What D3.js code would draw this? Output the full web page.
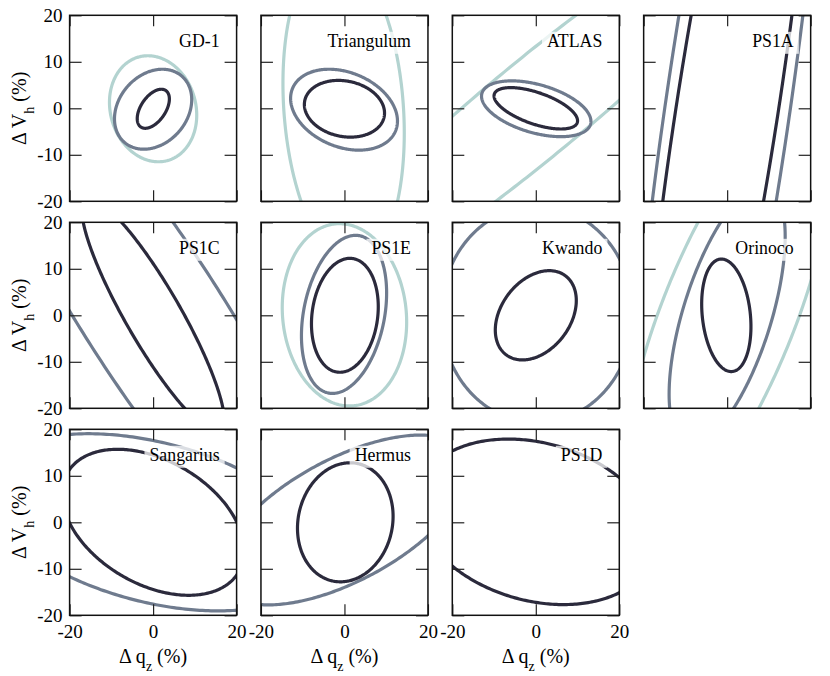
<!DOCTYPE html>
<html>
<head>
<meta charset="utf-8">
<script src="https://cdn.jsdelivr.net/npm/d3@7"></script>
<style>
  body { margin: 0; background: #fff; }
</style>
</head>
<body>
<script>
var width = 830, height = 676;
var serif = "Liberation Serif";

// panel names, row by row
var panels = ["GD-1", "Triangulum", "ATLAS", "PS1A",
              "PS1C", "PS1E", "Kwando", "Orinoco",
              "Sangarius", "Hermus", "PS1D"];

// ellipses: [panel, centre dq, centre dV, half width, half height, correlation]
var lightEllipses = [
  ["GD-1",       0.0, -0.1, 10.45, 11.4, -0.12],
  ["Triangulum",-0.2,  0.0, 14.53, 33.7, -0.158],
  ["ATLAS",      0.0,  0.0, 60.0,  44.9,  0.955],
  ["PS1E",       0.0,  0.1, 14.9,  19.6, -0.08],
  ["Orinoco",    0.3,  0.0, 24.8,  45.0,  0.726]
];
var midEllipses = [
  ["GD-1",       0.0, -0.2,  9.25,  8.6,  0.24],
  ["Triangulum",-0.1, -0.3, 12.8,   8.7, -0.28],
  ["ATLAS",      0.1, -0.1, 13.1,   6.0, -0.45],
  ["PS1A",       0.1,  0.0, 24.4, 120.0,  0.787],
  ["PS1C",       0.0,  0.0, 44.9,  60.0, -0.902],
  ["PS1E",      -0.1,  0.2, 10.2,  17.0,  0.27],
  ["Kwando",     0.3,  0.2, 23.0,  23.3,  0.0],
  ["Orinoco",    0.0,  0.0, 13.9,  27.8,  0.61],
  ["Sangarius",  0.0,  0.0, 40.5,  19.05,-0.383],
  ["Hermus",     0.0,  0.5, 30.0,  18.26, 0.608]
];
var darkEllipses = [
  ["GD-1",       0.05,-0.1,  3.85,  4.2,  0.5],
  ["Triangulum", 0.0, -0.1,  9.6,   6.1, -0.15],
  ["ATLAS",      0.0,  0.0, 10.0,   4.45,-0.6],
  ["PS1A",       0.05, 0.0, 21.0, 100.0,  0.81],
  ["PS1C",       0.0,  0.0, 17.06, 25.2, -0.897],
  ["PS1E",       0.1,  0.0,  8.0,  12.25, 0.15],
  ["Kwando",     0.0,  0.0,  9.7,   9.6,  0.33],
  ["Orinoco",   -0.2,  0.0,  5.9,  12.1, -0.2],
  ["Sangarius",  0.0,  0.0, 21.8,  15.7, -0.39],
  ["Hermus",     0.2,  0.0, 11.45, 12.8,  0.1],
  ["PS1D",       0.0,  0.1, 28.6,  17.8, -0.23]
];

var xTicks = [-20, 0, 20];
var yTicks = [-20, -10, 0, 10, 20];

var colors = {light: "#b3d3d0", mid: "#6f7b8e", dark: "#2b2a3c"};

var pw = 167, ph = 186;
var left0 = 69.6, top0 = 15.3, stepX = 191.35, stepY = 207;
var ncol = 4;

var x = d3.scaleLinear().domain([-20, 20]).range([0, pw]);
var y = d3.scaleLinear().domain([-20, 20]).range([ph, 0]);

var svg = d3.select("body").append("svg")
    .attr("width", width)
    .attr("height", height);

var line = d3.line()
    .x(function(d) { return x(d[0]); })
    .y(function(d) { return y(d[1]); })
    .curve(d3.curveLinearClosed);

function ellipsePoints(e) {
  var cx = e[1], cy = e[2], sx = e[3], sy = e[4], r = e[5];
  var s = Math.sqrt(1 - r * r);
  return d3.range(0, 360, 1).map(function(a) {
    var t = a * Math.PI / 180;
    return [cx + sx * Math.cos(t), cy + sy * (r * Math.cos(t) + s * Math.sin(t))];
  });
}

function axisTitle(sel, main, sub) {
  sel.style("font-family", serif).style("font-size", "20px");
  sel.append("tspan").text("\u0394 " + main);
  sel.append("tspan").attr("baseline-shift", "sub").style("font-size", "14px").text(sub);
  sel.append("tspan").text(" (%)");
}

panels.forEach(function(name, i) {
  var col = i % ncol, row = Math.floor(i / ncol);
  var g = svg.append("g")
      .attr("transform", "translate(" + (left0 + col * stepX) + "," + (top0 + row * stepY) + ")");

  g.append("clipPath").attr("id", "clip" + i)
    .append("rect").attr("width", pw).attr("height", ph);

  var curves = g.append("g").attr("clip-path", "url(#clip" + i + ")");
  [["light", lightEllipses], ["mid", midEllipses], ["dark", darkEllipses]].forEach(function(lv) {
    lv[1].filter(function(e) { return e[0] == name; }).forEach(function(e) {
      curves.append("path")
        .attr("d", line(ellipsePoints(e)))
        .attr("fill", "none")
        .attr("stroke", colors[lv[0]])
        .attr("stroke-width", 3.2);
    });
  });

  // title with a half transparent white box
  var title = g.append("text")
      .attr("x", pw - 17)
      .attr("y", 31.5)
      .attr("text-anchor", "end")
      .style("font-family", serif)
      .style("font-size", "17.8px")
      .text(name);
  var bb = title.node().getBBox();
  g.insert("rect", "text")
    .attr("x", bb.x - 5).attr("y", bb.y + 1)
    .attr("width", bb.width + 10).attr("height", bb.height + 2)
    .attr("fill", "#fff").attr("opacity", 0.75);

  var showY = col == 0;
  var showX = row == 2;

  var fmt = function(d) { return String(d); };
  var none = function() { return ""; };

  g.append("g").attr("class", "ax")
    .call(d3.axisLeft(y).tickValues(yTicks).tickSizeInner(-12).tickSizeOuter(0)
      .tickPadding(7).tickFormat(showY ? fmt : none));
  g.append("g").attr("class", "ax").attr("transform", "translate(" + pw + ",0)")
    .call(d3.axisRight(y).tickValues(yTicks).tickSizeInner(-12).tickSizeOuter(0).tickFormat(none));
  g.append("g").attr("class", "ax")
    .call(d3.axisTop(x).tickValues(xTicks).tickSizeInner(-11).tickSizeOuter(0).tickFormat(none));
  g.append("g").attr("class", "ax").attr("transform", "translate(0," + ph + ")")
    .call(d3.axisBottom(x).tickValues(xTicks).tickSizeInner(-11).tickSizeOuter(0)
      .tickPadding(9).tickFormat(showX ? fmt : none));

  g.append("rect")
    .attr("width", pw).attr("height", ph)
    .attr("fill", "none").attr("stroke", "#111").attr("stroke-width", 1.5);

  if (showY) {
    svg.append("text")
      .attr("transform", "translate(26," + (top0 + row * stepY + ph / 2) + ") rotate(-90)")
      .attr("text-anchor", "middle")
      .call(axisTitle, "V", "h");
  }
  if (showX) {
    svg.append("text")
      .attr("x", left0 + col * stepX + pw / 2)
      .attr("y", 663)
      .attr("text-anchor", "middle")
      .call(axisTitle, "q", "z");
  }
});

svg.selectAll(".ax path").remove();
svg.selectAll(".ax line").attr("stroke", "#222").attr("stroke-width", 1.2);
svg.selectAll(".ax text")
  .style("font-family", serif)
  .style("font-size", "19px")
  .attr("fill", "#000");
</script>
</body>
</html>
